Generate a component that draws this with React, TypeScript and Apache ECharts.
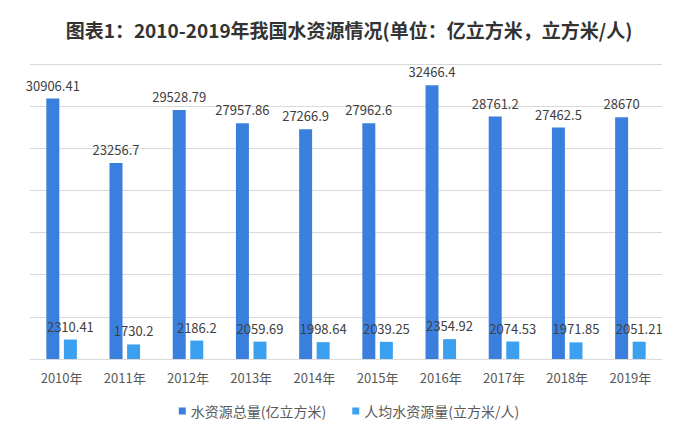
import React, { useEffect, useRef } from "react";
import * as echarts from "echarts";

const years = ["2010年", "2011年", "2012年", "2013年", "2014年", "2015年", "2016年", "2017年", "2018年", "2019年"];
const totalWater = [30906.41, 23256.7, 29528.79, 27957.86, 27266.9, 27962.6, 32466.4, 28761.2, 27462.5, 28670];
const perCapita = [2310.41, 1730.2, 2186.2, 2059.69, 1998.64, 2039.25, 2354.92, 2074.53, 1971.85, 2051.21];
const seriesNames = ["水资源总量(亿立方米)", "人均水资源量(立方米/人)"];
const titleText = "图表1：2010-2019年我国水资源情况(单位：亿立方米，立方米/人)";

const FONT = "'Noto Sans CJK SC', 'Noto Sans', sans-serif";

export default function App() {
  const ref = useRef<HTMLDivElement>(null);
  useEffect(() => {
    if (!ref.current) return;
    const chart = echarts.init(ref.current, undefined, { renderer: "svg" });
    chart.setOption({
      animation: false,
      backgroundColor: "#ffffff",
      textStyle: { fontFamily: FONT },
      title: {
        text: titleText,
        left: "center",
        top: 15,
        textStyle: { fontFamily: FONT, fontSize: 19, fontWeight: "bold", color: "#333333" },
      },
      legend: {
        bottom: 13,
        left: "center",
        itemWidth: 7,
        itemHeight: 7,
        itemGap: 26,
        icon: "rect",
        textStyle: { fontSize: 14, color: "#595959", fontFamily: FONT },
        data: seriesNames,
      },
      grid: { left: 30, right: 36, top: 64, bottom: 77 },
      xAxis: {
        type: "category",
        data: years,
        axisLine: { lineStyle: { color: "#D9D9D9" } },
        axisTick: { show: false },
        axisLabel: { color: "#595959", fontSize: 13, margin: 12, fontFamily: FONT },
      },
      yAxis: {
        type: "value",
        min: 0,
        max: 35000,
        interval: 5000,
        axisLabel: { show: false },
        axisLine: { show: false },
        axisTick: { show: false },
        splitLine: { lineStyle: { color: "#D9D9D9" } },
      },
      series: [
        {
          name: seriesNames[0],
          type: "bar",
          data: totalWater,
          barWidth: 13,
          barGap: "35%",
          itemStyle: { color: "#3B7FDE" },
          label: { show: true, position: "top", distance: 7, fontSize: 13, color: "#404040", fontFamily: FONT },
        },
        {
          name: seriesNames[1],
          type: "bar",
          data: perCapita,
          barWidth: 13,
          itemStyle: { color: "#3CA0F0" },
          label: { show: true, position: "top", distance: 7, fontSize: 13, color: "#404040", fontFamily: FONT },
        },
      ],
    });
    return () => chart.dispose();
  }, []);
  return <div ref={ref} style={{ width: 698, height: 436, position: "absolute", left: 0, top: 0 }} />;
}
